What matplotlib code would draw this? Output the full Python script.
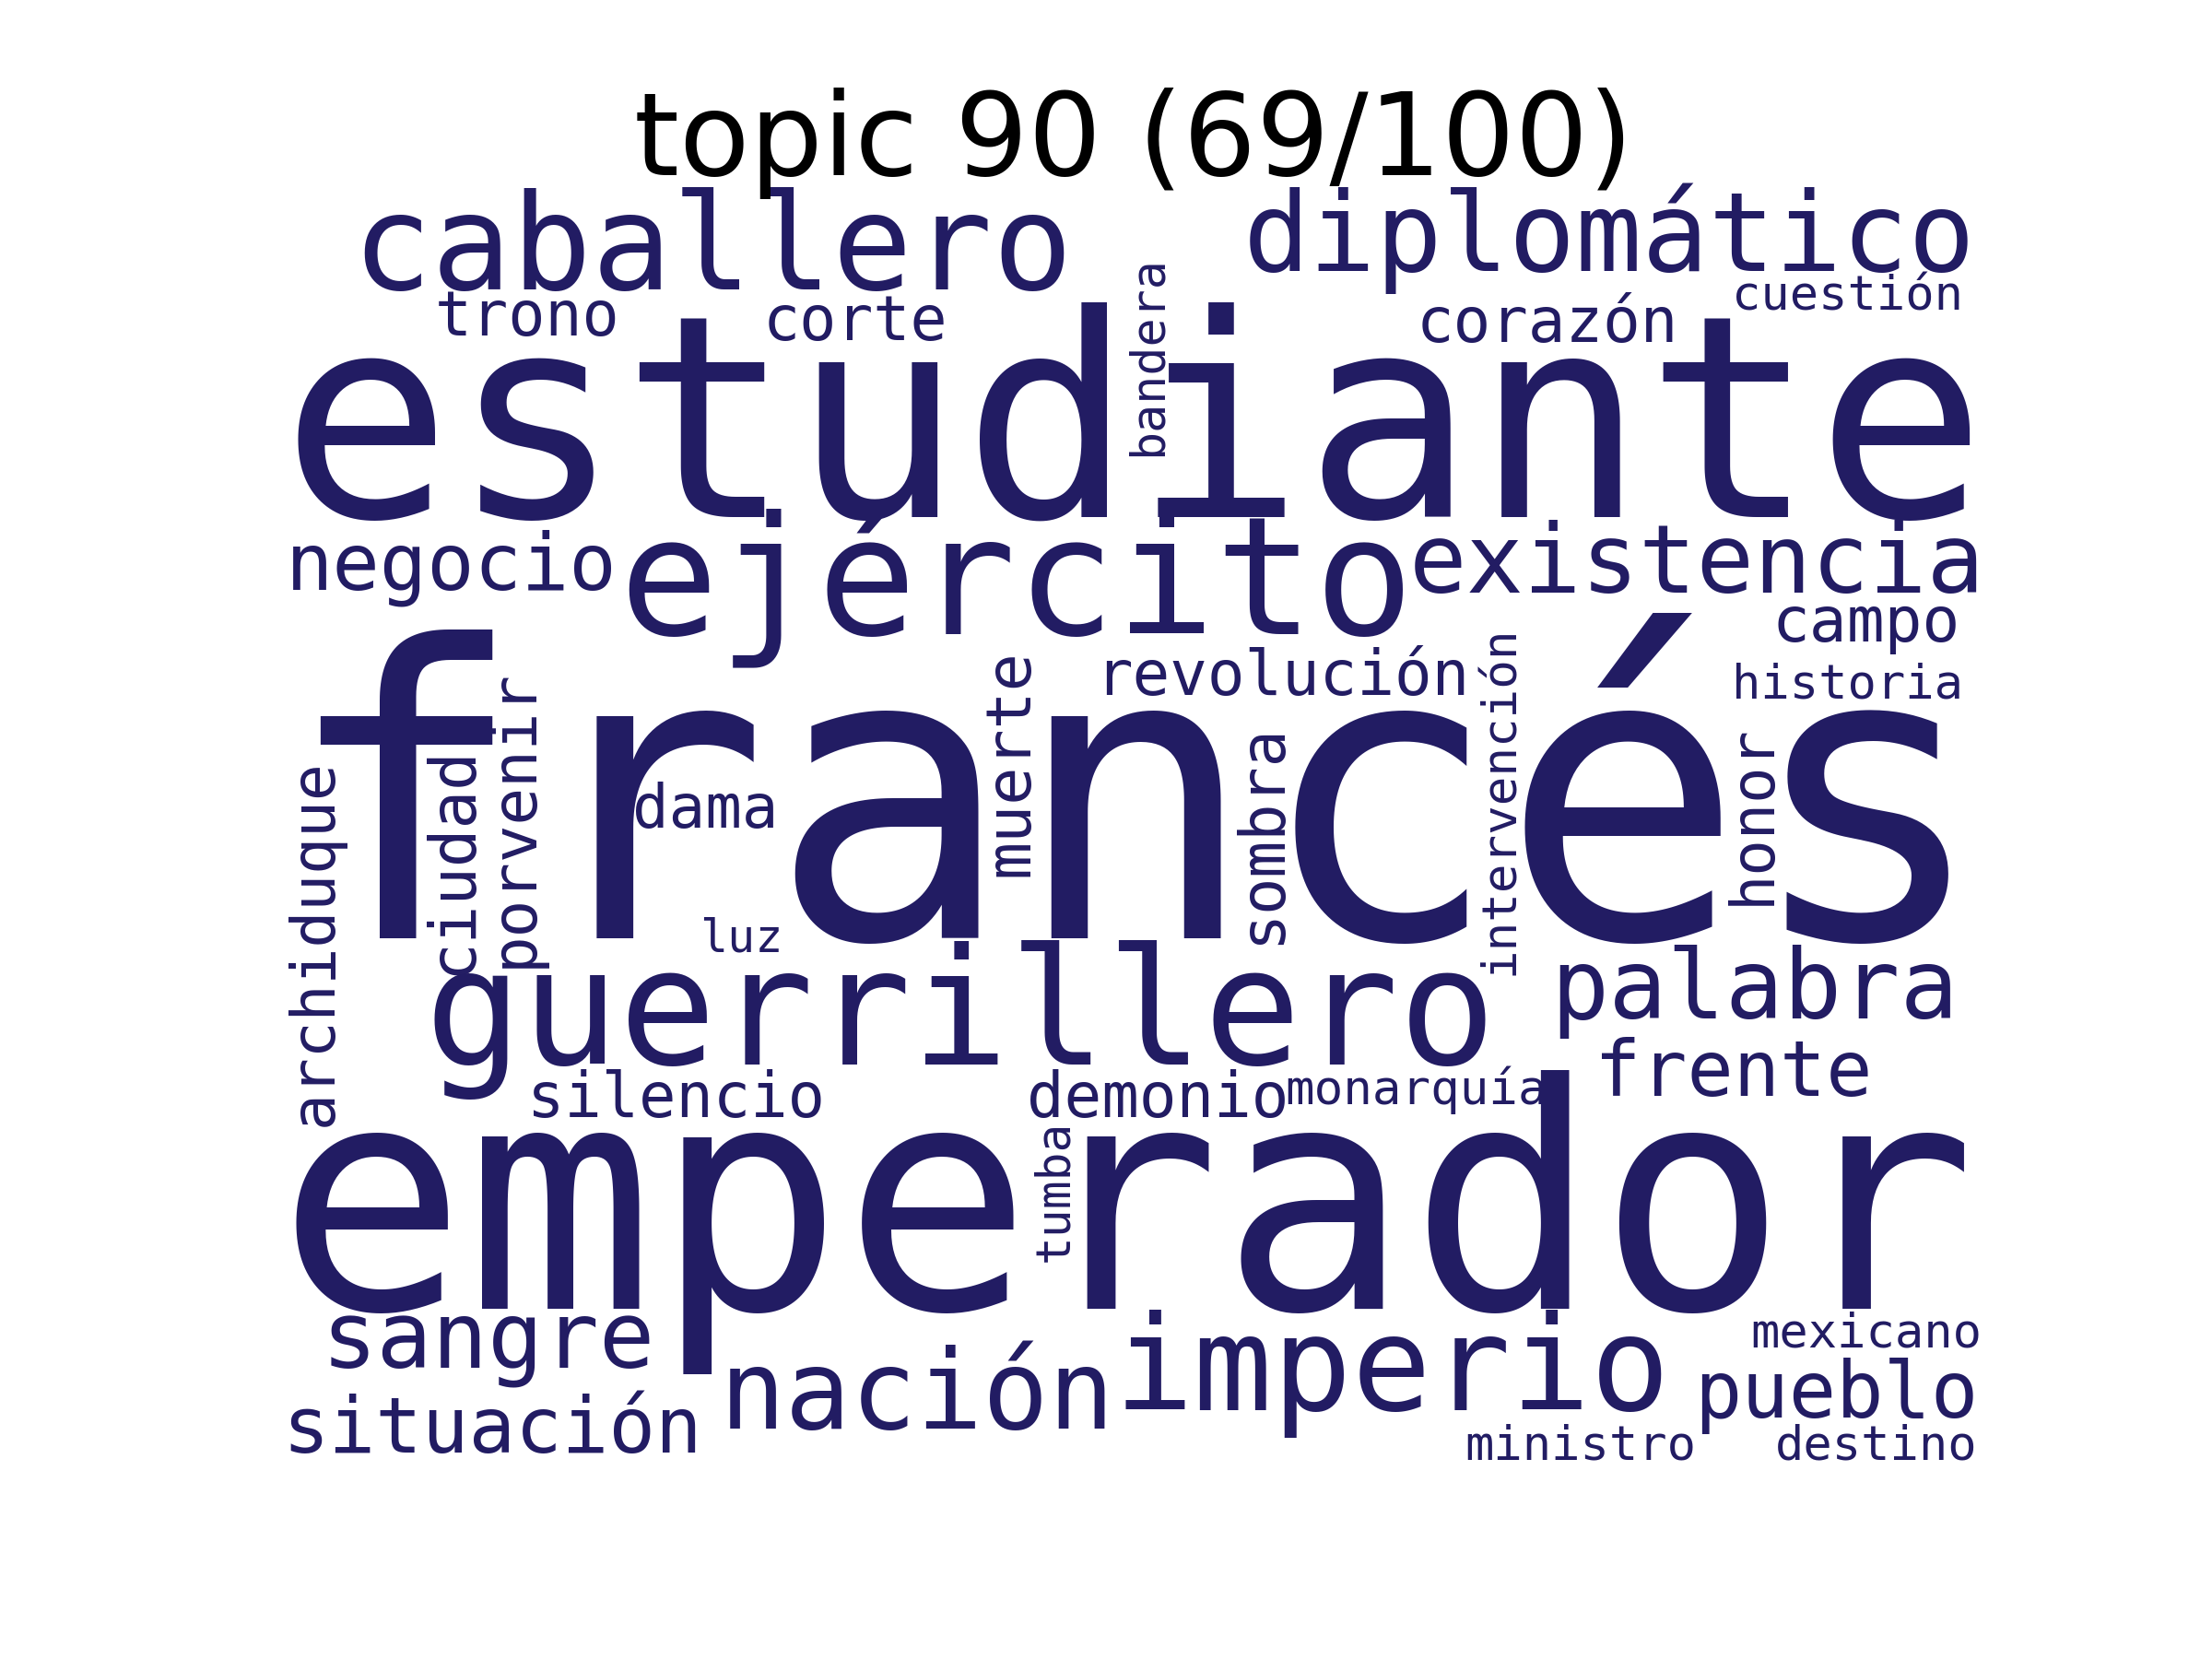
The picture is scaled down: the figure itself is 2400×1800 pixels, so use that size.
import matplotlib
matplotlib.use("Agg")
import matplotlib.pyplot as plt

# --- word cloud content (topic 90) ---
TITLE = "topic 90 (69/100)"
WORD_COLOR = "#221c63"

# horizontal words
h_words = [
    "estudiante", "francés", "emperador", "caballero", "diplomático",
    "trono", "corte", "corazón", "cuestión", "negocio", "ejército",
    "existencia", "campo", "revolución", "historia", "dama", "luz",
    "guerrillero", "palabra", "silencio", "demonio", "monarquía",
    "frente", "sangre", "nación", "imperio", "pueblo", "situación",
    "mexicano", "ministro", "destino",
]
# font size in points (relative weight of each word)
h_sizes = [
    73.8, 105.5, 81.7, 34.7, 28.8,
    16.0, 16.0, 16.2, 12.5, 20.5, 43.0,
    24.9, 16.3, 16.2, 12.5, 15.8, 12.0,
    42.2, 25.2, 16.1, 16.2, 12.6,
    20.0, 24.1, 28.5, 34.4, 20.5, 20.2,
    12.5, 12.5, 12.5,
]

# vertical words (read bottom to top)
v_words = [
    "bandera", "archiduque", "ciudad", "porvenir", "muerte",
    "sombra", "intervención", "honor", "tumba",
]
v_sizes = [12.4, 15.9, 16.6, 16.2, 16.4, 16.0, 12.6, 15.7, 12.3]

# layout on an 800 x 600 canvas (x = centre, y = baseline)
h_x = [
    400.0, 400.5, 396.6, 202.0, 623.6,
    115.3, 269.4, 594.4, 735.3, 79.5, 345.0,
    664.7, 744.2, 469.8, 735.3, 198.8, 215.7,
    318.8, 691.5, 184.9, 411.5, 532.5,
    681.9, 96.8, 298.2, 521.2, 730.0, 98.7,
    743.9, 609.7, 748.8,
]
h_y = [
    149.0, 347.0, 521.0, 42.4, 33.8,
    64.2, 66.2, 66.9, 52.3, 183.4, 204.6,
    184.8, 208.0, 233.1, 234.4, 295.4, 353.6,
    406.6, 384.8, 431.1, 431.1, 425.2,
    421.2, 549.0, 577.5, 568.9, 572.2, 588.7,
    539.0, 592.0, 592.0,
]
# vertical words: x = baseline, y = centre
v_x = [412.9, 23.2, 88.5, 117.0, 350.2, 468.5, 578.5, 698.5, 369.1]
v_y = [73.8, 349.3, 310.6, 290.7, 264.9, 298.3, 282.5, 289.1, 465.6]


fig = plt.figure(figsize=(8, 6), dpi=300)
ax = fig.add_subplot(111)
ax.set_xlim(0, 800)
ax.set_ylim(600, 0)
ax.set_aspect("equal")
ax.axis("off")

for w, s, x, y in zip(h_words, h_sizes, h_x, h_y):
    ax.text(x, y, w, fontsize=s, family="DejaVu Sans Mono", color=WORD_COLOR,
            ha="center", va="baseline")

for w, s, x, y in zip(v_words, v_sizes, v_x, v_y):
    ax.text(x, y, w, fontsize=s, family="DejaVu Sans Mono", color=WORD_COLOR,
            ha="center", va="baseline", rotation=90, rotation_mode="anchor")

ax.set_title(TITLE, fontsize=30)

fig.savefig("out.png", dpi=300)
